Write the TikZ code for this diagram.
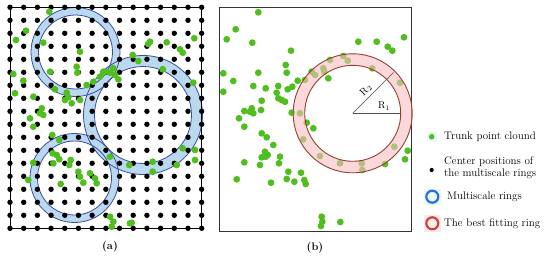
\documentclass[tikz,border=0pt]{standalone}
\definecolor{ptgreen}{RGB}{80,190,30}
\definecolor{ringblue}{RGB}{186,216,238}
\definecolor{ringbluedraw}{RGB}{58,78,160}
\definecolor{ringpink}{RGB}{248,190,192}
\definecolor{ringred}{RGB}{150,62,48}
\definecolor{legblue}{RGB}{46,110,208}
\definecolor{legred}{RGB}{196,72,56}
\tikzset{
  gdot/.style={fill=ptgreen},
  griddot/.style={fill=black},
  bluering/.style={fill=ringblue,even odd rule},
  blueringline/.style={draw=ringbluedraw,line width=0.8pt},
  pinkring/.style={fill=ringpink,fill opacity=0.6,even odd rule},
  pinkringline/.style={draw=ringred,line width=0.9pt},
  legtext/.style={anchor=west,font=\fontsize{11}{11.8}\selectfont,inner sep=0pt,align=left},
  panellabel/.style={font=\fontsize{11}{13}\selectfont\bfseries,inner sep=0pt},
}
\begin{document}
\begin{tikzpicture}[x=1pt,y=-1pt]
\useasboundingbox (0,0) rectangle (550,257);
% ---------- panel (a) ----------
\foreach \cx/\cy/\ro/\ri in {75.5/52/44.5/37,143/115/59.5/48.5,74.5/178/44.5/37}{
  \fill[bluering] (\cx,\cy) circle (\ro) (\cx,\cy) circle (\ri);
}
\foreach \cx/\cy/\ro/\ri in {75.5/52/44.5/37,143/115/59.5/48.5,74.5/178/44.5/37}{
  \draw[blueringline] (\cx,\cy) circle (\ro) (\cx,\cy) circle (\ri);
}
\foreach \i in {0,...,14}
  \foreach \j in {0,...,17}
    \fill[griddot] ({10+\i*13.69},{7.3+\j*13.0}) circle (2.7);
\draw[black,line width=1pt] (10,7.3) rectangle (201.7,228.3);
\foreach \x/\y in {26/30.7,16/40,43.3/42.7,49.3/11.7,80/51.7,76.7/66.7,77.3/72.7,13.3/74,23.3/80.7,50/71.7,55/89.3,66.7/92.7,68.3/97.3,65/100,71.7/103.3,80/100,86.7/85,93.3/81.7,100/76.7,105/71.7,15/93.3,33.3/96.7,41.7/108.3,40/113.3,43.3/115,30/118.3,33.3/126.7,52.3/135,59.3/140,52.7/153.3,56.7/155,59.3/159.3,53.3/163.3,70.7/160,69.3/165,33.3/162.7,28.3/180,78.3/171.7,80/176.7,90/173.3,95/178.3,96.7/183.3,83.3/182.7,60.7/184,110/216.7,113.3/221.7,111.7/226.7,131.7/222.7,150/41.7,148.3/44,166.7/42.3,180/49.3,182.7/52.7,194.3/38.3,132.7/55,138.3/61,162.7/69.3,113.3/68.3,110/72.7,115/75,118.3/79.3,103.3/71.7,193.3/82.7,182.7/148.3,195/150,195/160,152.7/161.7,152.7/171.7,129.3/165,110/156.7,176.7/165,130/223.3}
  \fill[gdot] (\x,\y) circle (3.4);
\node[panellabel] (la) at (110,247) {(a)};
% ---------- panel (b) ----------
\draw[black!80,line width=0.9pt] (219.3,7.3) rectangle (411.7,231);
\foreach \x/\y in {258.3/12.3,235.7/29.3,226.7/39.3,252.3/42.7,291/50.7,285.7/65,286.7/72.7,223.3/73.3,258.3/72.7,233.3/81,297.7/80.7,223.3/91.7,253.3/86,265.7/88.3,278.3/86,287.7/89.3,292.3/86.7,305/80,311.7/71.7,323.3/68.3,324.3/71.7,328.3/78.3,315/75,330/60,343.3/56,347.7/60.7,276.7/92.7,278.3/98.3,281.7/100,285/101.7,261.7/100.7,261/110,251.7/108.3,250/111.7,253.3/113.3,244.3/111,239/118.3,291.7/112.7,300/113.3,306.7/122.7,313.3/128.3,244.3/126.7,261.7/133.3,266.7/137.3,273.3/145,303.3/139.3,265/151.7,267.7/155,265.7/156.7,261.7/157.3,280/156.7,279/163.3,260/165,244.3/162.3,320/156,340/163.3,361.7/163.3,362.3/170,385/164,394.3/146.7,407.7/150.7,405/159.3,288.3/171.7,286.7/179,294.3/181.7,301/172.7,304.3/180,305.7/184,271/182.7,236.7/179.3,321.7/216.7,322.3/221.7,321/226,340.3/222,358.3/41.7,376.7/41.7,387.7/46.7,392.3/50.7,404/37.3,372.3/68.3,400/82.7}
  \fill[gdot] (\x,\y) circle (3.4);
\coordinate (c) at (352.7,113.3);
\fill[pinkring] (c) circle (59.5) (c) circle (48);
\draw[pinkringline] (c) circle (59.5) (c) circle (48);
\coordinate (r1end) at (400.2,113.3);
\coordinate (r2end) at (393.5,72.5);
\draw[black!70,line width=0.5pt] (c) -- (r1end);
\draw[black!70,line width=0.5pt] (c) -- (r2end);
\node[font=\fontsize{10}{12}\selectfont,inner sep=0pt] (r1) at (384,106) {R$_1$};
\node[font=\fontsize{10}{12}\selectfont,inner sep=0pt,rotate=45] (r2) at (366,90) {R$_2$};
\node[panellabel] (lb) at (315,248) {(b)};
% ---------- legend ----------
\fill[cyan!8] (426.5,131.5) rectangle (437,142);
\fill[ptgreen] (431.7,136.7) circle (2.8);
\node[legtext] (t1) at (444,137) {Trunk point clound};
\fill[black] (431.7,170) circle (2.1);
\node[legtext] (t2) at (444,167.5) {Center positions of\\the multiscale rings};
\fill[cyan!10] (424,188.5) rectangle (440.5,205);
\draw[legblue,line width=2.2pt] (432.3,196.7) circle (6);
\node[legtext] (t3) at (447,197) {Multiscale rings};
\fill[red!8] (424,215) rectangle (440.5,231.5);
\draw[legred,line width=2.2pt] (432.3,223.3) circle (6);
\node[legtext] (t4) at (444,223.3) {The best fitting ring};
\end{tikzpicture}
\end{document}
